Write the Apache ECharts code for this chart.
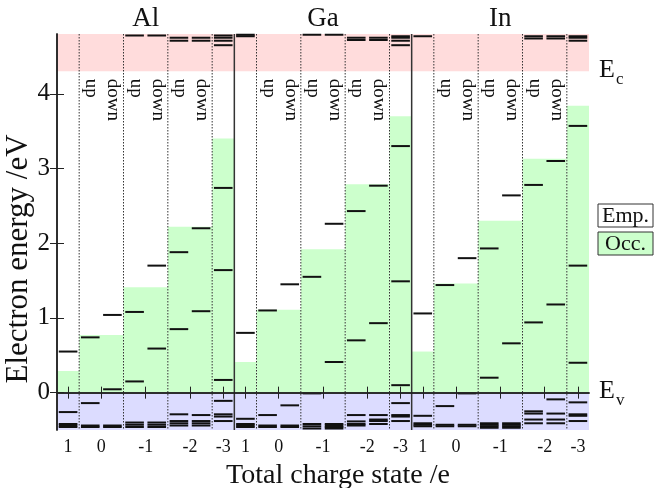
<!DOCTYPE html>
<html><head><meta charset="utf-8">
<script src="https://cdn.jsdelivr.net/npm/echarts@6/dist/echarts.min.js"></script>
<style>html,body{margin:0;padding:0;background:#fff}#c{width:654px;height:488px}</style>
</head><body><div id="c"></div>
<script>
// ---------------- data ----------------
const panels = ['Al', 'Ga', 'In'];
const chargeLabels = ['1', '0', '-1', '-2', '-3'];
const spinLabels = ['up', 'down'];
const yTickValues = [0, 1, 2, 3, 4];
const energyMin = -0.5, energyMax = 4.8;
const conductionEdge = 4.3, valenceEdge = 0;
const bandLabels = ['c', 'v'];
const legendLabels = ['Emp.', 'Occ.'];
const xAxisName = 'Total charge state /e';
const yAxisName = 'Electron energy /eV';

// highest occupied level per charge state (1, 0, -1, -2, -3)
const occAl = [0.29, 0.77, 1.41, 2.22, 3.40];
const occGa = [0.41, 1.11, 1.92, 2.79, 3.70];
const occIn = [0.55, 1.46, 2.30, 3.13, 3.84];

// defect levels per sub-column: 1 | 0 up | 0 down | -1 up | -1 down | -2 up | -2 down | -3
const levelsAl = [
  [0.55, -0.26, -0.42, -0.44, -0.46],
  [0.74, -0.14, -0.44, -0.46],
  [1.04, 0.045, -0.44, -0.46],
  [4.78, 1.08, 0.15, -0.40, -0.43, -0.46],
  [4.78, 1.70, 0.59, -0.40, -0.43, -0.46],
  [4.75, 4.71, 1.88, 0.85, -0.29, -0.38, -0.41, -0.44],
  [4.75, 4.71, 2.20, 1.09, -0.30, -0.38, -0.41, -0.44],
  [4.78, 4.75, 4.71, 4.65, 2.74, 1.64, 0.17, -0.11, -0.29, -0.32, -0.38]
];
const levelsGa = [
  [4.79, 4.77, 0.80, -0.35, -0.42, -0.44, -0.46],
  [1.10, -0.30, -0.44, -0.46],
  [1.45, -0.17, -0.44, -0.46],
  [4.79, 1.55, -0.01, -0.42, -0.45, -0.48],
  [4.79, 2.26, 0.41, -0.42, -0.44, -0.46, -0.48],
  [4.75, 4.72, 2.43, 0.70, -0.30, -0.385, -0.42, -0.44],
  [4.75, 4.72, 2.77, 0.93, -0.30, -0.36, -0.38, -0.42],
  [4.77, 4.75, 4.71, 4.65, 3.30, 1.49, 0.10, -0.14, -0.30, -0.32, -0.38]
];
const levelsIn = [
  [4.77, 1.06, -0.31, -0.41, -0.43, -0.45],
  [1.44, -0.18, -0.43, -0.45],
  [1.80, -0.01, -0.43, -0.45],
  [1.93, 0.20, -0.41, -0.43, -0.45, -0.47],
  [2.64, 0.66, -0.41, -0.43, -0.45, -0.47],
  [4.77, 4.74, 2.78, 0.94, -0.25, -0.28, -0.36, -0.41],
  [4.77, 4.74, 3.10, 1.18, -0.09, -0.28, -0.36, -0.41],
  [4.77, 4.75, 4.71, 3.57, 1.70, 0.40, -0.13, -0.29, -0.31, -0.38]
];

// ---------------- structure ----------------
const occByPanel = [occAl, occGa, occIn];
const levelsByPanel = [levelsAl, levelsGa, levelsIn];
const colsPerPanel = 8;
const chargeSpans = [[0, 1], [1, 3], [3, 5], [5, 7], [7, 8]];
const chargeTickPos = [0.5, 2, 4, 6, 7.5];
const spinCols = [1, 3, 5]; // first (up) column of spin-resolved charge states
const xMax = colsPerPanel * panels.length;

const FONT = 'Liberation Serif';
const PINK = '#ffdcdc', GREEN = '#ccffcc', BLUE = '#dcdcff';

const tickValues = [], tickText = {};
panels.forEach((p, i) => chargeTickPos.forEach((t, j) => {
  const v = i * colsPerPanel + t; tickValues.push(v); tickText[v] = chargeLabels[j];
}));
const panelCenters = panels.map((p, i) => i * colsPerPanel + colsPerPanel / 2);

const bandData = [
  [0, xMax, conductionEdge, energyMax, PINK],
  [0, xMax, energyMin, valenceEdge, BLUE]
];
occByPanel.forEach((occ, i) => occ.forEach((top, c) => {
  bandData.push([i * colsPerPanel + chargeSpans[c][0], i * colsPerPanel + chargeSpans[c][1], valenceEdge, top, GREEN]);
}));

const levelData = [];
levelsByPanel.forEach((cols, i) => cols.forEach((lv, c) => lv.forEach(e => levelData.push([i * colsPerPanel + c, e]))));

const sepData = [];
for (let i = 1; i < panels.length; i++) sepData.push([i * colsPerPanel, 1]);
panels.forEach((p, i) => chargeSpans.slice(1).forEach(s => sepData.push([i * colsPerPanel + s[0], 0])));

const spinData = [];
panels.forEach((p, i) => spinCols.forEach(c => spinLabels.forEach((s, k) => spinData.push([i * colsPerPanel + c + k + 0.5, 4.2, s]))));

const edgeData = [[xMax, conductionEdge, bandLabels[0]], [xMax, valenceEdge, bandLabels[1]]];

const axisLineStyle = { color: '#222', width: 1.5 };

const chart = echarts.init(document.getElementById('c'), null, { renderer: 'canvas' });
chart.setOption({
  animation: false,
  backgroundColor: '#fff',
  grid: { left: 57, right: 65, top: 34, bottom: 58, containLabel: false, outerBoundsMode: 'none' },
  xAxis: [{
    type: 'value', min: 0, max: xMax, position: 'bottom', z: 10,
    axisLine: { lineStyle: axisLineStyle },
    splitLine: { show: false },
    axisTick: { inside: true, length: 6, customValues: tickValues, lineStyle: { color: '#222', width: 1 } },
    axisLabel: { customValues: tickValues, formatter: v => tickText[v] || '', fontFamily: FONT, fontSize: 18, color: '#111', margin: 8 },
    name: xAxisName, nameLocation: 'middle', nameGap: 32,
    nameTextStyle: { fontFamily: FONT, fontSize: 28, color: '#111', padding: [0, 0, 0, 30] }
  }, {
    type: 'value', min: 0, max: xMax, position: 'top', z: 10,
    axisLine: { lineStyle: axisLineStyle },
    splitLine: { show: false },
    axisTick: { inside: true, length: 6, customValues: tickValues, lineStyle: { color: '#222', width: 1 } },
    axisLabel: { customValues: panelCenters, formatter: v => panels[Math.round((v - colsPerPanel / 2) / colsPerPanel)], fontFamily: FONT, fontSize: 27, color: '#111', margin: 2 }
  }],
  yAxis: [{
    type: 'value', min: energyMin, max: energyMax, position: 'left', z: 10,
    axisLine: { lineStyle: axisLineStyle },
    splitLine: { show: false },
    axisTick: { inside: true, length: 7, customValues: yTickValues, lineStyle: { color: '#222', width: 1 } },
    axisLabel: { customValues: yTickValues, fontFamily: FONT, fontSize: 25, color: '#111', margin: 7 }
  }, {
    type: 'value', min: energyMin, max: energyMax, position: 'right', z: 10,
    axisLine: { lineStyle: axisLineStyle },
    splitLine: { show: false },
    axisTick: { inside: true, length: 7, customValues: yTickValues, lineStyle: { color: '#222', width: 1 } },
    axisLabel: { show: false }
  }],
  series: [{
    type: 'custom', name: 'bands', z: 1, silent: true,
    data: bandData,
    renderItem: (params, api) => {
      const d = bandData[params.dataIndex];
      const a = api.coord([d[0], d[3]]), b = api.coord([d[1], d[2]]);
      return { type: 'rect', shape: { x: a[0], y: a[1], width: b[0] - a[0], height: b[1] - a[1] }, style: { fill: d[4] } };
    }
  }, {
    type: 'custom', name: 'separators', z: 2, silent: true,
    data: sepData,
    renderItem: (params, api) => {
      const x = api.value(0), solid = api.value(1) === 1;
      const a = api.coord([x, energyMax]), b = api.coord([x, energyMin]);
      return { type: 'line', shape: { x1: a[0], y1: a[1], x2: b[0], y2: b[1] },
        style: solid ? { stroke: '#333', lineWidth: 1.5 } : { stroke: '#333', lineWidth: 1, lineDash: [1.5, 1.5] } };
    }
  }, {
    type: 'custom', name: 'levels', z: 3, silent: true,
    data: levelData,
    renderItem: (params, api) => {
      const x = api.value(0), e = api.value(1);
      const a = api.coord([x + 0.08, e]), b = api.coord([x + 0.92, e]);
      return { type: 'line', shape: { x1: a[0], y1: a[1], x2: b[0], y2: b[1] }, style: { stroke: '#111', lineWidth: 2 } };
    }
  }, {
    type: 'custom', name: 'spin', z: 4, silent: true,
    data: spinData,
    renderItem: (params, api) => {
      const d = spinData[params.dataIndex];
      const p = api.coord([d[0], d[1]]);
      return { type: 'text', x: p[0] + 1, y: p[1], rotation: -Math.PI / 2,
        style: { text: d[2], fontFamily: FONT, fontSize: 19, fill: '#111', align: 'left', verticalAlign: 'middle' } };
    }
  }, {
    type: 'custom', name: 'edges', z: 4, silent: true,
    data: edgeData,
    renderItem: (params, api) => {
      const d = edgeData[params.dataIndex];
      const p = api.coord([d[0], d[1]]);
      return { type: 'group', children: [
        { type: 'text', x: p[0] + 10, y: p[1] - 1, style: { text: 'E', fontFamily: FONT, fontSize: 26, fill: '#111', align: 'left', verticalAlign: 'middle' } },
        { type: 'text', x: p[0] + 27, y: p[1] + 8, style: { text: d[2], fontFamily: FONT, fontSize: 17, fill: '#111', align: 'left', verticalAlign: 'middle' } }
      ] };
    }
  }],
  graphic: [
    { type: 'text', x: 19, y: 259, rotation: Math.PI / 2, style: { text: yAxisName, fontFamily: FONT, fontSize: 31, fill: '#111', align: 'center', verticalAlign: 'middle' } },
    { type: 'rect', shape: { x: 598, y: 204, width: 55, height: 23 }, style: { fill: '#fff', stroke: '#333', lineWidth: 1 } },
    { type: 'text', x: 625.5, y: 216, style: { text: legendLabels[0], fontFamily: FONT, fontSize: 22, fill: '#111', align: 'center', verticalAlign: 'middle' } },
    { type: 'rect', shape: { x: 598, y: 232, width: 55, height: 23 }, style: { fill: GREEN, stroke: '#333', lineWidth: 1 } },
    { type: 'text', x: 625.5, y: 244, style: { text: legendLabels[1], fontFamily: FONT, fontSize: 22, fill: '#111', align: 'center', verticalAlign: 'middle' } }
  ]
});
</script></body></html>
